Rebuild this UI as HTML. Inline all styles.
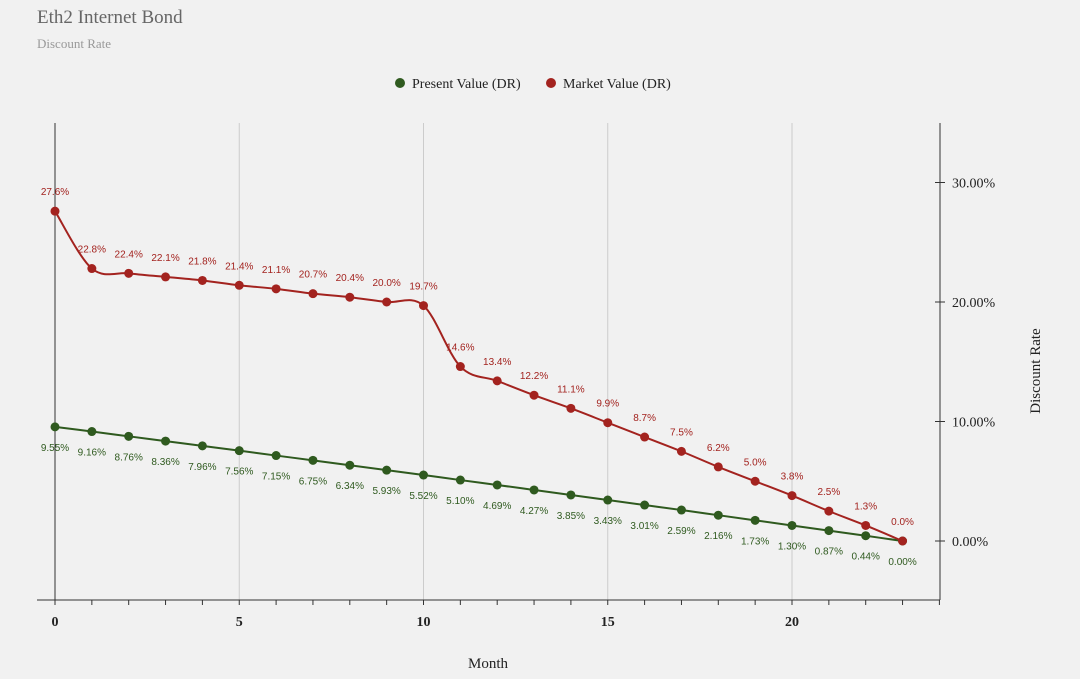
<!DOCTYPE html>
<html><head><meta charset="utf-8">
<style>
body{margin:0;background:#f1f1f1;font-family:"Liberation Serif",serif;}
#wrap{position:relative;width:1080px;height:679px;overflow:hidden;background:#f1f1f1;}
</style></head>
<body>
<div id="wrap">
<svg id="chart" width="1080" height="679" xmlns="http://www.w3.org/2000/svg">
<text x="37" y="23" font-size="19" fill="#666" font-family="Liberation Serif, serif">Eth2 Internet Bond</text>
<text x="37" y="48" font-size="13" fill="#999" font-family="Liberation Serif, serif">Discount Rate</text>
<g>
<g><circle cx="400" cy="83" r="5" fill="#2f5a1f"/><text x="412" y="88" font-size="14" fill="#222">Present Value (DR)</text></g>
<g><circle cx="551" cy="83" r="5" fill="#a3231f"/><text x="563" y="88" font-size="14" fill="#222">Market Value (DR)</text></g>
</g>
<text x="488" y="668" font-size="15" text-anchor="middle" fill="#222">Month</text>
<text transform="translate(1040,371) rotate(-90)" font-size="15" text-anchor="middle" fill="#222">Discount Rate</text>
<g id="grid"></g><g id="axes"></g><g id="series"></g>
</svg>
</div>
<script>
const months=[0,1,2,3,4,5,6,7,8,9,10,11,12,13,14,15,16,17,18,19,20,21,22,23];
const marketValue=[27.6,22.8,22.4,22.1,21.8,21.4,21.1,20.7,20.4,20.0,19.7,14.6,13.4,12.2,11.1,9.9,8.7,7.5,6.2,5.0,3.8,2.5,1.3,0.0];
const presentValue=[9.55,9.16,8.76,8.36,7.96,7.56,7.15,6.75,6.34,5.93,5.52,5.10,4.69,4.27,3.85,3.43,3.01,2.59,2.16,1.73,1.30,0.87,0.44,0.00];
const xTicks=[0,5,10,15,20];
const yTicks=[0,10,20,30];
const NS="http://www.w3.org/2000/svg";
function X(v){return 55+v*36.85;}
function Y(v){return 541-v*11.95;}
function mk(tag,attrs,parent){const e=document.createElementNS(NS,tag);for(const k in attrs)e.setAttribute(k,attrs[k]);parent.appendChild(e);return e;}
const grid=document.getElementById('grid'),axes=document.getElementById('axes'),ser=document.getElementById('series');
xTicks.forEach(t=>{
  const l=mk('line',{x1:X(t),x2:X(t),y1:123,y2:600,stroke:t===0?'#333':'#ccc','stroke-width':1},grid);
  
  
  const tx=mk('text',{x:X(t),y:626,'font-size':14,'font-weight':'bold','text-anchor':'middle',fill:'#222'},axes);
  tx.textContent=t;
  
  
});
const xa=mk('line',{x1:37,x2:940,y1:600,y2:600,stroke:'#333'},axes);


for(let i=0;i<=24;i++){if(X(i)>940)break;mk('line',{x1:X(i),x2:X(i),y1:600,y2:605,stroke:'#333'},axes);}
const ya=mk('line',{x1:940,x2:940,y1:123,y2:600,stroke:'#333'},axes);


yTicks.forEach(t=>{
  mk('line',{x1:935,x2:945,y1:Y(t),y2:Y(t),stroke:'#333'},axes);
  const tx=mk('text',{x:952,y:Y(t)+5,'font-size':14,fill:'#222'},axes);
  tx.textContent=t.toFixed(2)+'%';
  
  
});
function smooth(pts){
  let d='M'+pts[0][0]+','+pts[0][1];
  for(let i=0;i<pts.length-1;i++){
    const p0=pts[Math.max(i-1,0)],p1=pts[i],p2=pts[i+1],p3=pts[Math.min(i+2,pts.length-1)];
    const t=0.5/3;
    d+=' C'+(p1[0]+(p2[0]-p0[0])*t)+','+(p1[1]+(p2[1]-p0[1])*t)+' '+(p2[0]-(p3[0]-p1[0])*t)+','+(p2[1]-(p3[1]-p1[1])*t)+' '+p2[0]+','+p2[1];
  }
  return d;
}
function draw(vals,color,name,labelFn,dy,anchorShift){
  const pts=months.map((m,i)=>[X(m),Y(vals[i])]);
  const p=mk('path',{d:smooth(pts),fill:'none',stroke:color,'stroke-width':2},ser);
  
  
  pts.forEach((q,i)=>{
    const c=mk('circle',{cx:q[0],cy:q[1],r:4.5,fill:color},ser);
    
    
    const t=mk('text',{x:q[0]+anchorShift,y:q[1]+dy,'font-size':10,'text-anchor':'middle',fill:color,'font-family':'Liberation Sans, sans-serif'},ser);
    t.textContent=labelFn(vals[i]);
    
    
  });
}
draw(presentValue,'#2f5a1f','present-value',v=>v.toFixed(2)+'%',24,0);
draw(marketValue,'#a3231f','market-value',v=>v.toFixed(1)+'%',-16,0);
</script>
</body></html>
